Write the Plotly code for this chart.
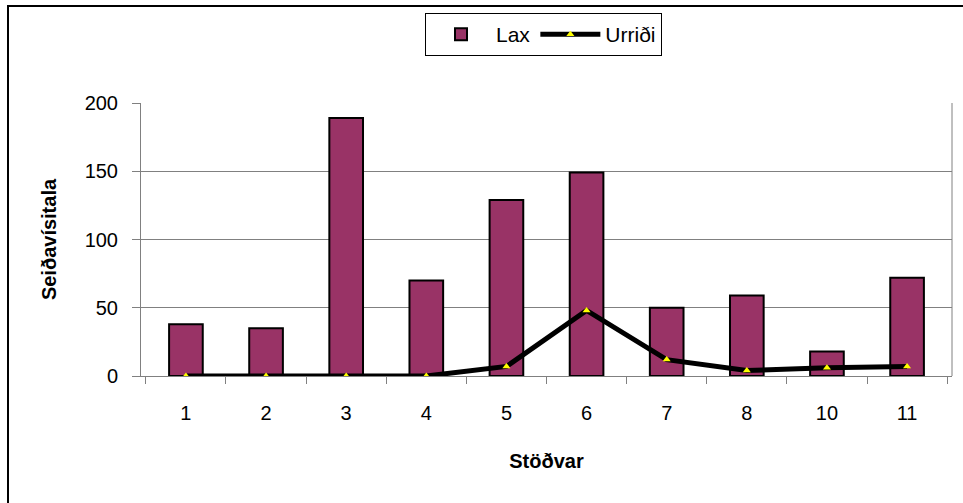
import plotly.graph_objects as go

stations = ["1", "2", "3", "4", "5", "6", "7", "8", "10", "11"]
lax = [38, 35, 189, 70, 129, 149, 50, 59, 18, 72]
urridi = [0, 0, 0, 0, 7, 48, 12, 4, 6, 7]
y_ticks = [0, 50, 100, 150, 200]

W, H = 963, 503
L, R, T, B = 141, 11, 103, 127
pw, ph = W - L - R, H - T - B

fig = go.Figure()
fig.add_trace(go.Bar(
    x=stations, y=lax, name="Lax",
    marker=dict(color="#993366", line=dict(color="black", width=2)),
))
fig.add_trace(go.Scatter(
    x=stations, y=urridi, name="Urriði", mode="lines+markers",
    line=dict(color="black", width=5),
    marker=dict(symbol="triangle-up", color="#FFFF00", size=7, line=dict(width=0)),
))

def px_x(p):
    return (p - L) / pw

def px_y(p):
    return (H - B - p) / ph

# outer chart frame (left and top edges visible)
fig.add_shape(type="line", xref="paper", yref="paper",
              x0=px_x(8), x1=px_x(8), y0=px_y(503), y1=px_y(5),
              line=dict(color="black", width=2), layer="below")
fig.add_shape(type="line", xref="paper", yref="paper",
              x0=px_x(7), x1=px_x(963), y0=px_y(6), y1=px_y(6),
              line=dict(color="black", width=2), layer="below")

# right border of plot area
fig.add_shape(type="line", xref="paper", yref="paper", x0=1, x1=1, y0=0, y1=1,
              line=dict(color="#808080", width=1))

fig.update_layout(
    width=W, height=H,
    margin=dict(l=L, r=R, t=T, b=B),
    paper_bgcolor="white", plot_bgcolor="white",
    font=dict(family="Liberation Sans, Arial, sans-serif", size=20, color="black"),
    bargap=0.58,
    showlegend=True,
    legend=dict(orientation="h", x=px_x(425), y=px_y(13), xanchor="left", yanchor="top",
                bordercolor="black", borderwidth=1, bgcolor="white",
                font=dict(size=21), itemwidth=60, tracegroupgap=0),
    xaxis=dict(
        type="category", showgrid=False, showline=True, linecolor="#808080", linewidth=1,
        ticks="outside", tickson="boundaries", ticklen=7, tickcolor="#808080",
        ticklabelstandoff=19,
        title=dict(text="<b>Stöðvar</b>", font=dict(size=20), standoff=30),
    ),
    yaxis=dict(
        range=[0, 200], tickvals=y_ticks, showgrid=True, gridcolor="#808080", gridwidth=1,
        showline=True, linecolor="#808080", linewidth=1, ticks="outside", ticklen=8,
        tickcolor="#808080", zeroline=False, ticklabelstandoff=10,
        title=dict(text="<b>Seiðavísitala</b>", font=dict(size=20), standoff=22),
    ),
)

fig.write_html("out.html", config={"displayModeBar": False},
               post_script="document.body.style.margin='0px';")
